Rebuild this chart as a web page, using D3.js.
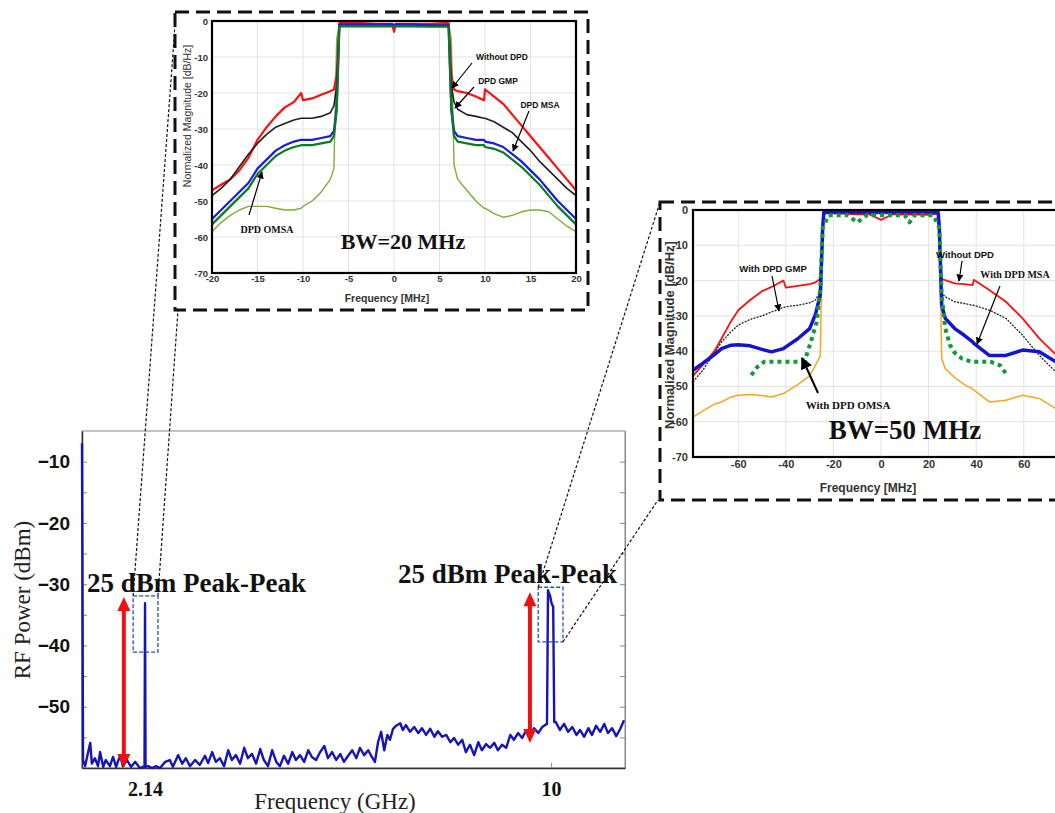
<!DOCTYPE html>
<html>
<head>
<meta charset="utf-8">
<script src="https://cdn.jsdelivr.net/npm/d3@7"></script>
<style>
  body { margin: 0; background: #fff; }
</style>
</head>
<body>
<svg id="fig" width="1055" height="813"></svg>
<script>
// ---------- main spectrum (GHz / dBm) ----------
var mainTickGHz = [2.14, 10];
var mainTickLabels = ["2.14", "10"];
var mainTrace = [
  [0.92,-7.0],[0.94,-58.7],[0.98,-59.7],[1.04,-57.4],[1.08,-55.9],[1.11,-59.3],[1.17,-58.4],[1.23,-59.7],
  [1.27,-57.4],[1.33,-59.8],[1.38,-58.7],[1.46,-59.7],[1.52,-58.2],[1.58,-59.8],[1.66,-57.9],[1.71,-59.7],
  [1.79,-58.7],[1.87,-59.8],[1.95,-59.0],[2.04,-60],[2.10,-59.8],[2.13,-59.8],[2.14,-33.1],[2.15,-59.8],
  [2.20,-59.7],[2.28,-60],[2.35,-59.7],[2.43,-60],[2.53,-59.0],[2.62,-58.7],[2.68,-59.8],[2.78,-57.9],
  [2.86,-59.3],[2.93,-58.4],[3.01,-59.7],[3.11,-58.7],[3.20,-59.5],[3.30,-58.0],[3.36,-59.2],[3.44,-57.4],
  [3.51,-59.0],[3.59,-58.4],[3.67,-59.7],[3.75,-57.1],[3.82,-58.7],[3.90,-57.9],[3.98,-59.3],[4.06,-56.7],
  [4.13,-58.4],[4.21,-57.7],[4.29,-59.3],[4.37,-56.9],[4.44,-58.7],[4.52,-59.7],[4.60,-57.1],[4.68,-59.0],
  [4.75,-59.7],[4.83,-58.0],[4.91,-59.3],[4.99,-57.4],[5.06,-58.7],[5.14,-57.9],[5.22,-59.0],[5.30,-57.1],
  [5.37,-58.2],[5.45,-58.7],[5.53,-57.4],[5.61,-56.4],[5.68,-58.4],[5.76,-57.4],[5.84,-58.7],[5.92,-57.7],
  [5.99,-59.0],[6.07,-58.0],[6.15,-57.1],[6.23,-58.4],[6.30,-56.7],[6.38,-57.9],[6.46,-57.1],[6.53,-58.2],
  [6.59,-59.0],[6.65,-55.8],[6.71,-54.1],[6.77,-57.1],[6.83,-54.6],[6.88,-55.4],[6.94,-53.6],[7.00,-53.1],
  [7.08,-52.7],[7.13,-53.8],[7.19,-53.0],[7.27,-54.1],[7.35,-53.3],[7.43,-54.3],[7.50,-53.5],[7.58,-54.6],
  [7.66,-53.6],[7.74,-54.9],[7.81,-54.0],[7.89,-54.9],[7.97,-54.6],[8.05,-55.8],[8.12,-55.1],[8.20,-56.2],
  [8.28,-55.4],[8.35,-57.4],[8.43,-56.2],[8.51,-57.9],[8.59,-55.8],[8.66,-57.1],[8.74,-56.1],[8.82,-56.7],
  [8.90,-55.9],[8.97,-57.1],[9.05,-56.2],[9.13,-56.7],[9.21,-54.6],[9.28,-55.4],[9.36,-54.3],[9.44,-55.1],
  [9.52,-53.8],[9.59,-54.6],[9.67,-53.5],[9.75,-54.3],[9.83,-53.3],[9.88,-53.0],[9.92,-52.8],[9.94,-31.0],
  [9.98,-31.9],[10.00,-32.8],[10.02,-33.4],[10.04,-33.6],[10.06,-52.5],[10.09,-52.5],[10.17,-53.8],[10.25,-52.8],
  [10.33,-54.1],[10.41,-53.3],[10.49,-54.6],[10.56,-53.8],[10.64,-54.9],[10.72,-53.5],[10.79,-54.6],[10.87,-53.1],
  [10.95,-54.1],[11.03,-52.8],[11.10,-54.3],[11.18,-53.5],[11.26,-54.8],[11.34,-53.6],[11.41,-52.2]
];
var arrowGHz = [1.73, 9.59];
var arrowTop = [-32.1, -31.3];
var arrowBottom = [-60, -55.9];
var zoomBoxGHz = [[1.91, 2.39], [9.75, 10.23]];
var zoomBoxDBm = [[-31.9, -41.1], [-30.5, -39.4]];

// ---------- BW = 20 MHz inset (MHz / dB) ----------
var freq20 = [-20,-19,-18,-17,-16,-15,-14,-13,-12,-11,-10.2,-10,-9,-8,-7,-6.6,-6.3,-6,-4,-2,-0.2,0,0.2,
  2,4,6,6.3,6.6,7,8,9,9.9,10,11,12,13,14,15,16,17,18,19,20];
var noDpd20 = [-47,-45.5,-44,-41.5,-38,-33,-29.5,-26.5,-24,-22.5,-20,-22,-21.5,-20.5,-19.5,-19,-15,-0.5,-0.5,-0.8,-0.8,-3,-0.8,
  -0.8,-0.8,-0.5,-15,-19,-19.5,-20,-21,-22,-19,-21,-23,-26,-29,-32,-35,-38,-41,-44,-47];
var gmp20 = [-48.5,-46.5,-44,-40.5,-37,-34,-31.5,-29.5,-28.5,-27.5,-27,-27,-27,-26.5,-25.5,-23.5,-18,-1,-1,-1,-1,-1.5,-1,
  -1,-1.2,-1.2,-18,-22.5,-24.5,-26,-26.5,-27,-27,-28,-29.5,-31,-33.5,-36,-39,-41.5,-44,-46.5,-48.5];
var msa20 = [-55,-52.5,-50,-47.5,-45,-41,-38.5,-36,-34.5,-33.5,-33,-33,-33,-32.5,-32,-30.5,-24,-1,-1,-1,-1,-1.2,-1,
  -1,-1.2,-1.2,-24,-30.5,-32,-32.5,-33,-33,-33.5,-34,-35,-37,-39,-41.5,-44,-47,-50,-52.5,-55];
var omsa20 = [-56.5,-54,-51.5,-49,-46.5,-42.5,-40,-37.5,-36,-35,-34.5,-34.5,-34.5,-34,-33.5,-32,-25,-1.5,-1.5,-1.5,-1.5,-1.5,-1.5,
  -1.5,-1.6,-1.6,-25,-32,-33.5,-34,-34.5,-34.5,-35,-35.5,-36.5,-38.5,-40.5,-43,-45.5,-48.5,-51.5,-54,-56.5];
var input20 = [-58.5,-56,-54,-52.5,-51.5,-51.5,-51.5,-52,-52.5,-52.5,-52,-51.5,-50,-47.5,-44,-41,-5,-0.8,-0.8,-0.8,-0.8,-0.8,-0.8,
  -0.8,-0.8,-0.8,-5,-40,-44,-47,-50,-52,-52,-53.5,-54.5,-54,-53,-52.5,-52.5,-53,-55,-57,-58.5];

// ---------- BW = 50 MHz inset (MHz / dB) ----------
var freq50 = [-79,-75,-70,-67,-63,-60,-55,-50,-46,-41,-40,-35,-30,-27.5,-25.5,-24.5,-24,-15,-10,-5,0,5,10,15,20,
  24,24.5,25.5,27,31,35,38.5,39,45.5,52.5,59.5,66.5,73.5,79];
var noDpd50 = [-47,-44,-40,-36.4,-31.5,-28.4,-25.5,-23,-21.8,-20,-22,-21.5,-21,-20.5,-19.5,-6,-0.8,-1,-1.2,-1.2,-2.8,-1.2,-1.3,-1.3,-1.4,
  -1,-8,-19.5,-19.9,-20.8,-21,-21.3,-19.8,-22.7,-26,-30.7,-36.4,-41,-44];
var gmp50 = [-48.7,-45.5,-40.5,-37.4,-34.5,-32.6,-31,-30,-28.9,-27.6,-27.4,-27,-26.3,-25.5,-23,-10,-1,-1,-1,-1,-1,-1,-1,-1,-1,
  -1,-12,-23.5,-24.6,-26,-26.5,-27,-27,-28.4,-30.7,-35.5,-41.2,-45.9,-49];
var msa50 = [-45.4,-43.5,-41,-39.3,-38.3,-38.2,-38.5,-39.5,-40.2,-39.3,-38.8,-36.5,-33.6,-29.5,-24,-5,-0.5,-0.5,-0.5,-0.5,-0.5,-0.5,-0.5,-0.5,-0.5,
  -0.5,-5,-27,-30.7,-33.6,-35.5,-37.4,-37.8,-41.2,-41.2,-39.7,-40.2,-43,-45];
var input50 = [-58.7,-57,-55,-54.4,-53,-52.5,-52.3,-52.6,-53,-52,-51.6,-49.5,-47,-44,-41.2,-2,-1,-1,-1,-1,-1,-1,-1,-1,-1,
  -1,-2,-42,-45,-47.5,-49.5,-50.7,-51,-54.4,-53.9,-52.5,-53.4,-56.3,-57.5];
var omsaFreq50 = [-54.5,-52,-49,-46,-40,-35,-32,-29.5,-27,-25.5,-24.5,-22,-18,-14,-10,-6,-2,2,6,10,12,14,18,22,
  24.5,25.5,27,29,31,34,38,42,46,50,53];
var omsa50 = [-46.8,-44.5,-43,-43,-43,-43,-42.6,-37.4,-31.7,-22.2,-5,-1.5,-1.5,-1.5,-3.5,-1.5,-1.5,-1.5,-1.5,-1.5,-3.5,-1.5,-1.5,-1.5,
  -5,-24,-33.6,-38.3,-40.5,-42.1,-43,-43,-43,-44,-46.8];

var sans = "'Liberation Sans', Arial, sans-serif";
var serif = "'Liberation Serif', 'Times New Roman', serif";

var svg = d3.select("#fig");
svg.append("rect").attr("width", 1055).attr("height", 813).attr("fill", "#fff");

var defs = svg.append("defs");
defs.append("marker")
  .attr("id", "head")
  .attr("viewBox", "0 0 10 10")
  .attr("refX", 9).attr("refY", 5)
  .attr("markerWidth", 6).attr("markerHeight", 6)
  .attr("orient", "auto")
  .append("path").attr("d", "M0,0 L10,5 L0,10 z").attr("fill", "#000");

// ================= main chart =================
var mx = d3.scaleLinear().domain([0.92, 11.43]).range([82, 625]);
var my = d3.scaleLinear().domain([-60, -5]).range([768, 431]);

svg.append("rect")
  .attr("x", 82).attr("y", 431).attr("width", 543).attr("height", 337)
  .attr("fill", "none").attr("stroke", "#888").attr("stroke-width", 1);

var yAx = svg.append("g").attr("transform", "translate(82,0)")
  .call(d3.axisLeft(my).tickValues(d3.range(-55, -5, 5))
    .tickFormat(function(d) { return d % 10 === 0 ? d3.format("")(d) : ""; })
    .tickSizeInner(-5).tickSizeOuter(0).tickPadding(12));
yAx.select(".domain").attr("stroke", "#333").attr("stroke-width", 1.5);
yAx.selectAll(".tick line").attr("stroke", "#888");
yAx.selectAll("text").style("font-family", sans).style("font-weight", "bold").style("font-size", "19px").attr("fill", "#111");

var yAxR = svg.append("g").attr("transform", "translate(625,0)")
  .call(d3.axisRight(my).tickValues(d3.range(-55, -5, 5)).tickFormat("").tickSizeInner(-5).tickSizeOuter(0));
yAxR.select(".domain").attr("stroke", "#888");
yAxR.selectAll(".tick line").attr("stroke", "#888");

var xAx = svg.append("g").attr("transform", "translate(0,768)")
  .call(d3.axisBottom(mx).tickValues(mainTickGHz)
    .tickFormat(function(d, i) { return mainTickLabels[i]; })
    .tickSizeInner(-5).tickSizeOuter(0).tickPadding(14));
xAx.select(".domain").attr("stroke", "#333").attr("stroke-width", 1.5);
xAx.selectAll(".tick line").attr("stroke", "#888");
xAx.selectAll("text").style("font-family", serif).style("font-weight", "bold").style("font-size", "20px").attr("fill", "#111");

svg.append("text").attr("x", 335).attr("y", 809).attr("text-anchor", "middle")
  .style("font-family", serif).style("font-size", "23px").attr("fill", "#222")
  .text("Frequency (GHz)");
svg.append("text").attr("transform", "translate(30,600) rotate(-90)").attr("text-anchor", "middle")
  .style("font-family", serif).style("font-size", "23px").attr("fill", "#222")
  .text("RF Power (dBm)");

var mainLine = d3.line().x(function(d) { return mx(d[0]); }).y(function(d) { return my(d[1]); });
svg.append("path").datum(mainTrace).attr("d", mainLine)
  .attr("fill", "none").attr("stroke", "#1414b8").attr("stroke-width", 2.4).attr("stroke-linejoin", "round");

// red double arrows
arrowGHz.forEach(function(g, i) {
  var x = mx(g), y0 = my(arrowTop[i]), y1 = my(arrowBottom[i]);
  svg.append("line").attr("x1", x).attr("x2", x).attr("y1", y0 + 12).attr("y2", y1 - 12)
    .attr("stroke", "#f01010").attr("stroke-width", 4);
  svg.append("path").attr("d", "M" + x + "," + y0 + " l-6.5,14 l13,0 z").attr("fill", "#f01010");
  svg.append("path").attr("d", "M" + x + "," + y1 + " l-6.5,-14 l13,0 z").attr("fill", "#f01010");
});

// dashed zoom boxes
zoomBoxGHz.forEach(function(g, i) {
  svg.append("rect")
    .attr("x", mx(g[0])).attr("y", my(zoomBoxDBm[i][0]))
    .attr("width", mx(g[1]) - mx(g[0])).attr("height", my(zoomBoxDBm[i][1]) - my(zoomBoxDBm[i][0]))
    .attr("fill", "none").attr("stroke", "#2a52a8").attr("stroke-width", 1.3).attr("stroke-dasharray", "4,2");
});

svg.append("text").attr("x", 87).attr("y", 592)
  .style("font-family", serif).style("font-weight", "bold").style("font-size", "27px").attr("fill", "#111")
  .text("25 dBm Peak-Peak");
svg.append("text").attr("x", 398).attr("y", 583)
  .style("font-family", serif).style("font-weight", "bold").style("font-size", "27px").attr("fill", "#111")
  .text("25 dBm Peak-Peak");

// connector lines from zoom boxes to insets
var conn = [
  [mx(zoomBoxGHz[0][0]), my(zoomBoxDBm[0][0]), 176, 12],
  [mx(zoomBoxGHz[0][1]), my(zoomBoxDBm[0][0]), 178, 310],
  [mx(zoomBoxGHz[1][0]), my(zoomBoxDBm[1][0]), 660, 202],
  [mx(zoomBoxGHz[1][1]), my(zoomBoxDBm[1][1]), 658, 500]
];
svg.selectAll(".conn").data(conn).enter().append("line")
  .attr("x1", function(d) { return d[0]; }).attr("y1", function(d) { return d[1]; })
  .attr("x2", function(d) { return d[2]; }).attr("y2", function(d) { return d[3]; })
  .attr("stroke", "#111").attr("stroke-width", 1.2).attr("stroke-dasharray", "3,2");

// ================= inset helper =================
function drawInset(o) {
  var g = svg.append("g");
  g.append("rect").attr("x", o.box[0]).attr("y", o.box[1]).attr("width", o.box[2]).attr("height", o.box[3])
    .attr("fill", "#fff").attr("stroke", "#111").attr("stroke-width", 3).attr("stroke-dasharray", "14,7");

  var x = o.x, y = o.y;
  var x0 = x.range()[0], x1 = x.range()[1], y0 = y.range()[1], y1 = y.range()[0];
  var clipId = o.id + "clip";
  defs.append("clipPath").attr("id", clipId).append("rect")
    .attr("x", x0).attr("y", y0 - 2).attr("width", x1 - x0).attr("height", y1 - y0 + 2);

  // grid
  g.selectAll(".gx").data(o.xTicks).enter().append("line")
    .attr("x1", function(d) { return x(d); }).attr("x2", function(d) { return x(d); })
    .attr("y1", y0).attr("y2", y1).attr("stroke", "#e2e2e2").attr("stroke-width", 1);
  g.selectAll(".gy").data(o.yTicks).enter().append("line")
    .attr("x1", x0).attr("x2", x1)
    .attr("y1", function(d) { return y(d); }).attr("y2", function(d) { return y(d); })
    .attr("stroke", "#e2e2e2").attr("stroke-width", 1);

  var ax = g.append("g").attr("transform", "translate(" + x0 + ",0)")
    .call(d3.axisLeft(y).tickValues(o.yTicks).tickSize(0).tickPadding(o.pad)
      .tickFormat(function(d) { return d3.format("")(d).replace("\u2212", "-"); }));
  ax.select(".domain").remove();
  ax.selectAll("text").style("font-family", sans).style("font-weight", "bold")
    .style("font-size", o.tickSize + "px").attr("fill", "#333");
  var bx = g.append("g").attr("transform", "translate(0," + y1 + ")")
    .call(d3.axisBottom(x).tickValues(o.xTicks).tickSize(0).tickPadding(o.pad - 2)
      .tickFormat(function(d) { return d3.format("")(d).replace("\u2212", "-"); }));
  bx.select(".domain").remove();
  bx.selectAll("text").style("font-family", sans).style("font-weight", "bold")
    .style("font-size", o.tickSize + "px").attr("fill", "#333");

  var plot = g.append("g").attr("clip-path", "url(#" + clipId + ")");
  o.series.forEach(function(s) {
    var line = d3.line().x(function(d, i) { return x(s.f[i]); }).y(function(d) { return y(d); });
    plot.append("path").datum(s.v).attr("d", line)
      .attr("fill", "none").attr("stroke", s.color).attr("stroke-width", s.w)
      .attr("stroke-dasharray", s.dash || null).attr("stroke-linejoin", "round");
  });

  g.append("rect").attr("x", x0).attr("y", y0).attr("width", x1 - x0).attr("height", y1 - y0)
    .attr("fill", "none").attr("stroke", "#000").attr("stroke-width", 2.2);

  g.append("text").attr("transform", "translate(" + o.yLab[0] + "," + o.yLab[1] + ") rotate(-90)")
    .attr("text-anchor", "middle").style("font-family", sans).style("font-size", o.yLab[2] + "px")
    .style("font-weight", o.yLab[3]).attr("fill", "#333").text("Normalized Magnitude [dB/Hz]");
  g.append("text").attr("x", o.xLab[0]).attr("y", o.xLab[1]).attr("text-anchor", "middle")
    .style("font-family", sans).style("font-size", o.xLab[2] + "px").style("font-weight", o.xLab[3])
    .attr("fill", "#333").text("Frequency [MHz]");

  o.notes.forEach(function(n) {
    g.append("text").attr("x", n.x).attr("y", n.y).attr("text-anchor", "middle")
      .style("font-family", n.serif ? serif : sans).style("font-weight", "bold")
      .style("font-size", n.size + "px").attr("fill", "#111").text(n.t);
    if (n.a) {
      g.append("line").attr("x1", n.a[0]).attr("y1", n.a[1]).attr("x2", n.a[2]).attr("y2", n.a[3])
        .attr("stroke", "#000").attr("stroke-width", n.aw || 1.2).attr("marker-end", "url(#head)");
    }
  });
}

// ================= BW = 20 MHz =================
drawInset({
  id: "bw20",
  box: [175, 12, 413, 298],
  x: d3.scaleLinear().domain([-20, 20]).range([212, 576]),
  y: d3.scaleLinear().domain([-70, 0]).range([273, 21]),
  xTicks: d3.range(-20, 21, 5),
  yTicks: d3.range(-70, 1, 10),
  pad: 4, tickSize: 9.5,
  yLab: [191, 116, 10.5, "normal"],
  xLab: [387, 302, 10.5, "bold"],
  series: [
    { f: freq20, v: input20, color: "#7cae3a", w: 1.4 },
    { f: freq20, v: noDpd20, color: "#ff1010", w: 2.2 },
    { f: freq20, v: gmp20, color: "#202020", w: 1.6 },
    { f: freq20, v: msa20, color: "#1a1ae6", w: 2.2 },
    { f: freq20, v: omsa20, color: "#0b7a22", w: 2.2 }
  ],
  notes: [
    { t: "Without DPD", x: 502, y: 60, size: 8.5, a: [472, 63, 452, 88] },
    { t: "DPD GMP", x: 498, y: 84, size: 8.5, a: [474, 87, 455, 108] },
    { t: "DPD MSA", x: 540, y: 108, size: 8.5, a: [529, 111, 513, 151] },
    { t: "DPD OMSA", x: 267, y: 233, size: 10, serif: true, a: [249, 215, 262, 172] },
    { t: "BW=20 MHz", x: 403, y: 249, size: 22, serif: true }
  ]
});

// ================= BW = 50 MHz =================
drawInset({
  id: "bw50",
  box: [660, 202, 420, 298],
  x: d3.scaleLinear().domain([-79, 79]).range([693, 1069]),
  y: d3.scaleLinear().domain([-70, 0]).range([457, 210]),
  xTicks: d3.range(-60, 61, 20),
  yTicks: d3.range(-70, 1, 10),
  pad: 5, tickSize: 11,
  yLab: [674, 335, 13, "bold"],
  xLab: [868, 492, 12, "bold"],
  series: [
    { f: freq50, v: input50, color: "#f5a623", w: 1.5 },
    { f: freq50, v: noDpd50, color: "#ff1010", w: 1.8 },
    { f: freq50, v: gmp50, color: "#202020", w: 1.3, dash: "2,1.2" },
    { f: freq50, v: msa50, color: "#1414d0", w: 3.5 },
    { f: omsaFreq50, v: omsa50, color: "#129a3a", w: 4, dash: "4,4" }
  ],
  notes: [
    { t: "With DPD GMP", x: 773, y: 272, size: 9.5, a: [772, 276, 779, 311] },
    { t: "Without DPD", x: 965, y: 258, size: 9.5, a: [962, 261, 959, 281] },
    { t: "With DPD MSA", x: 1015, y: 278, size: 10, serif: true, a: [1000, 286, 977, 344] },
    { t: "With DPD OMSA", x: 848, y: 409, size: 11, serif: true, a: [818, 393, 802, 358], aw: 2 },
    { t: "BW=50 MHz", x: 905, y: 439, size: 27, serif: true }
  ]
});
</script>
</body>
</html>
